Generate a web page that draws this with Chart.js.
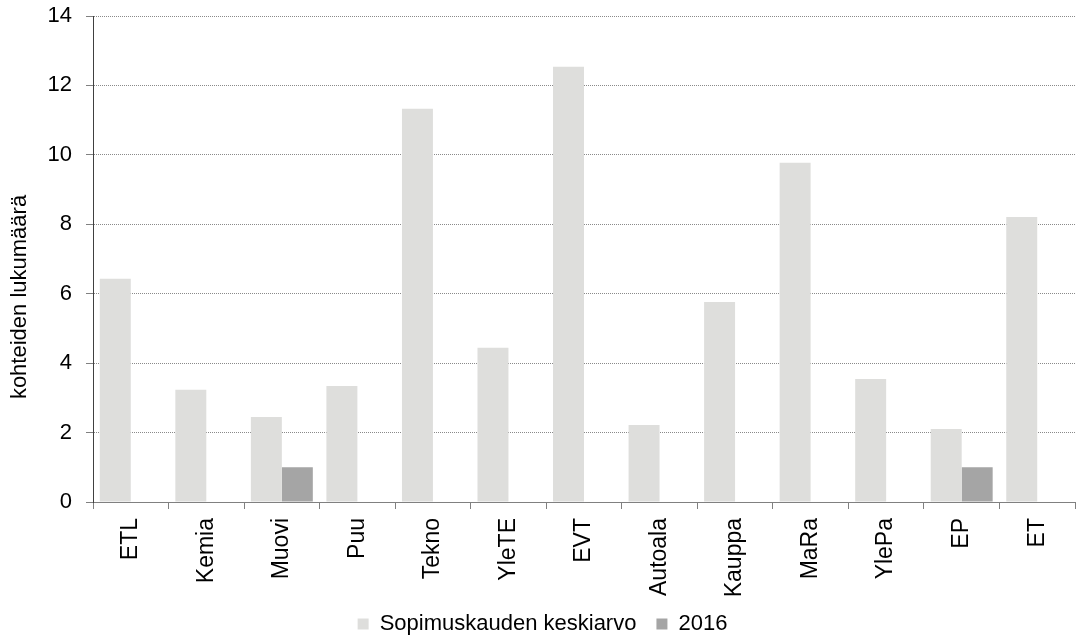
<!DOCTYPE html>
<html><head><meta charset="utf-8">
<script src="https://cdn.jsdelivr.net/npm/chart.js@4"></script>
<style>html,body{margin:0;padding:0;background:#fff}#wrap{width:1080px;height:641px}</style>
</head><body><div id="wrap"><canvas id="c" width="1080" height="641"></canvas></div>
<script>
const categories = ["ETL","Kemia","Muovi","Puu","Tekno","YleTE","EVT","Autoala","Kauppa","MaRa","YlePa","EP","ET"];
const seriesNames = ["Sopimuskauden keskiarvo","2016"];
const avgValues = [6.43,3.23,2.45,3.34,11.33,4.44,12.54,2.22,5.76,9.77,3.54,2.10,8.21];
const y2016Values = [null,null,1,null,null,null,null,null,null,null,null,1,null];
const yTitle = "kohteiden lukumäärä";

const FONT = "'Liberation Sans', Arial, sans-serif";

const yTitlePlugin = {
  id: 'yTitle',
  afterDraw(chart) {
    const ctx = chart.ctx;
    const a = chart.chartArea;
    ctx.save();
    ctx.font = "22px " + FONT;
    ctx.fillStyle = '#000';
    ctx.textAlign = 'center';
    ctx.textBaseline = 'middle';
    ctx.translate(20, (a.top + a.bottom) / 2 + 38);
    ctx.rotate(-Math.PI / 2);
    ctx.fillText(yTitle, 0, 0);
    ctx.restore();
  }
};

new Chart(document.getElementById('c'), {
  type: 'bar',
  data: {
    labels: categories,
    datasets: [
      {label: seriesNames[0], data: avgValues, backgroundColor: '#DEDEDC', categoryPercentage: 0.82, barPercentage: 1.0},
      {label: seriesNames[1], data: y2016Values, backgroundColor: '#A5A5A5', categoryPercentage: 0.82, barPercentage: 1.0}
    ]
  },
  options: {
    responsive: false,
    animation: false,
    devicePixelRatio: 1,
    layout: {padding: {left: 10, right: 5, top: 16, bottom: 0}},
    plugins: {
      legend: {
        position: 'bottom',
        maxHeight: 48,
        labels: {font: {family: FONT, size: 22}, color: '#000', boxWidth: 11, boxHeight: 11, padding: 20}
      },
      tooltip: {enabled: false}
    },
    scales: {
      x: {
        afterFit: s => { s.height = 91; s._computeLabelArea = () => undefined; },
        grid: {drawOnChartArea: false, offset: true, tickLength: 7, color: '#808080'},
        border: {color: '#808080'},
        ticks: {font: {family: FONT, size: 23}, color: '#000', minRotation: 90, maxRotation: 90, padding: 9, autoSkip: false}
      },
      y: {
        min: 0, max: 14,
        afterFit: s => { s.width = 83; s.paddingTop = 0; s.paddingBottom = 0; },
        grid: {color: '#8a8a8a', lineWidth: 1, tickLength: 7, tickColor: '#808080', tickBorderDash: [], drawTicks: true},
        border: {color: '#404040', dash: [1, 1], display: true},
        ticks: {stepSize: 2, font: {family: FONT, size: 22}, color: '#000', padding: 14}
      }
    }
  },
  plugins: [yTitlePlugin]
});
</script>
</body></html>
